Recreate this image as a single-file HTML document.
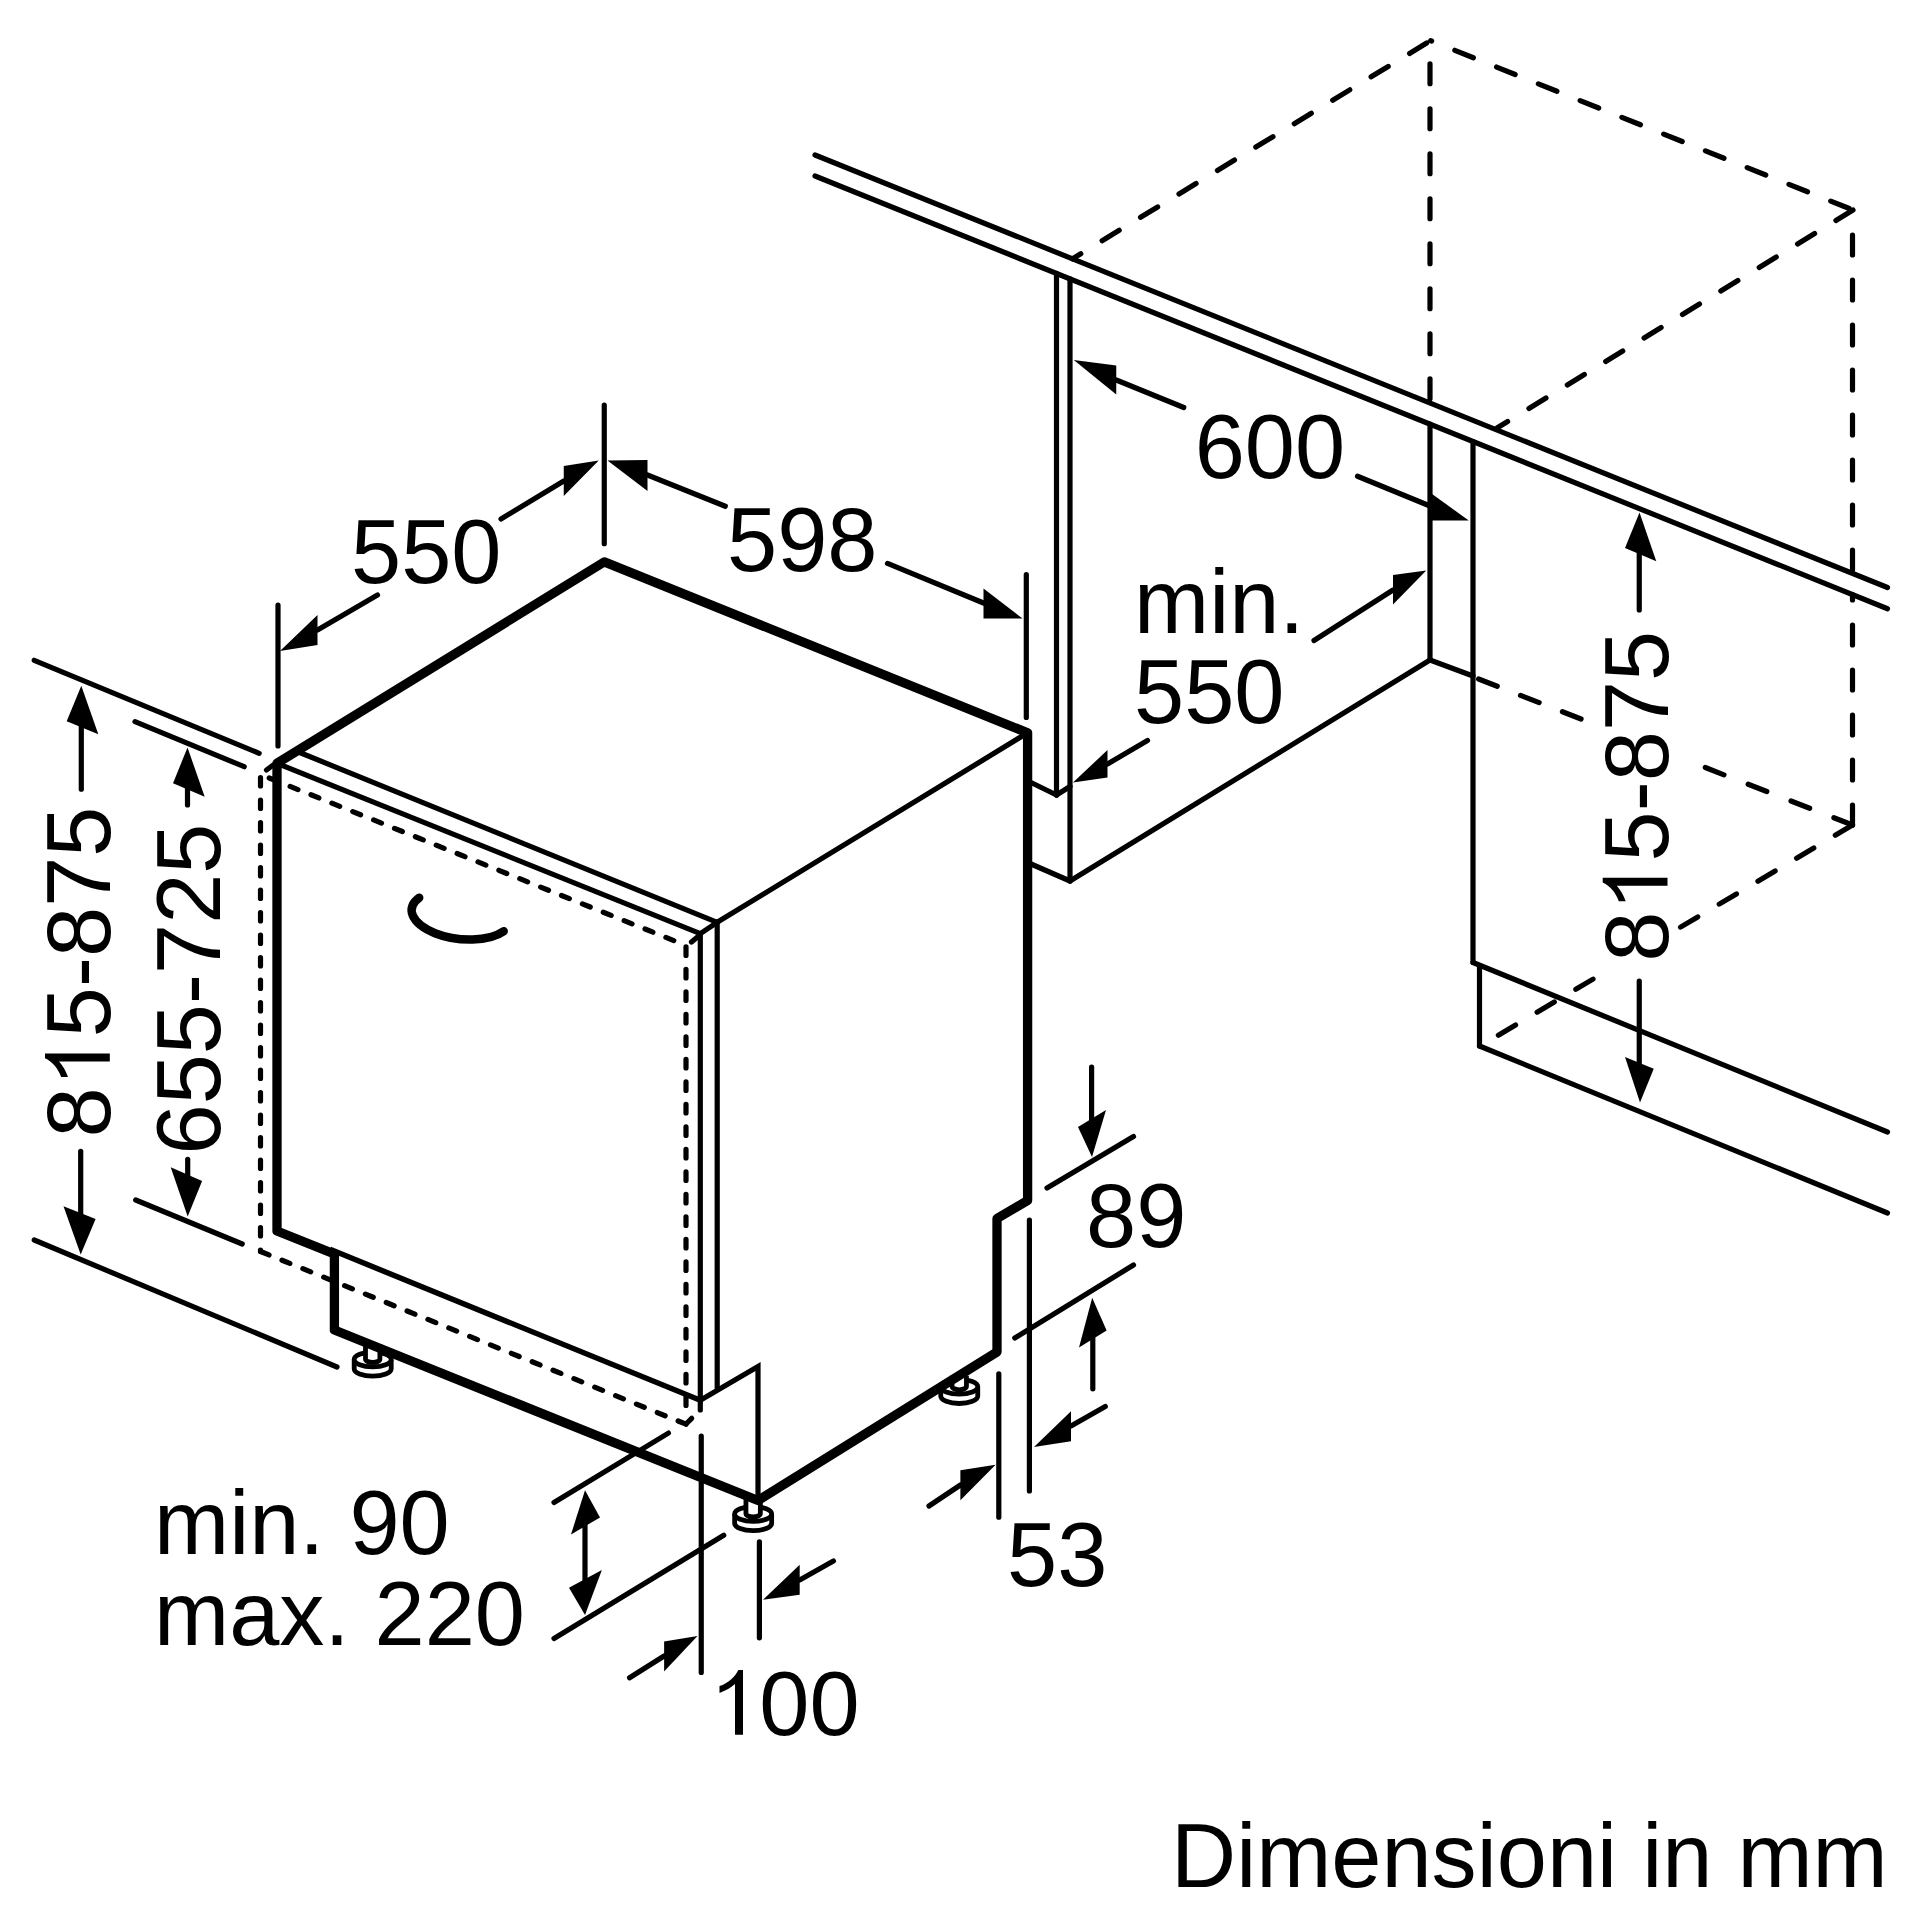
<!DOCTYPE html>
<html><head><meta charset="utf-8"><style>
html,body{margin:0;padding:0;background:#fff;}
svg{display:block;}
</style></head><body>
<svg width="1920" height="1920" viewBox="0 0 1920 1920">
<rect width="1920" height="1920" fill="#fff"/>
<g stroke="#000" fill="none">
<line x1="815" y1="155" x2="1887.5" y2="587.5" stroke-width="5.2" stroke-linecap="round" />
<line x1="815" y1="176" x2="1887.5" y2="608.75" stroke-width="5.2" stroke-linecap="round" />
<line x1="1072.5" y1="258.8" x2="1430.6" y2="40.6" stroke-width="5.2" stroke-linecap="round" stroke-dasharray="20 25" stroke-dashoffset="10.3"/>
<line x1="1430.6" y1="40.6" x2="1853" y2="210" stroke-width="5.2" stroke-linecap="round" stroke-dasharray="20 25" stroke-dashoffset="18.9"/>
<line x1="1430" y1="40.6" x2="1430" y2="403" stroke-width="5.2" stroke-linecap="round" stroke-dasharray="20 25" stroke-dashoffset="21.85"/>
<line x1="1852.5" y1="210" x2="1852.5" y2="573.4" stroke-width="5.2" stroke-linecap="round" stroke-dasharray="20 25" stroke-dashoffset="20"/>
<line x1="1852.5" y1="825" x2="1852.5" y2="594.6" stroke-width="5.2" stroke-linecap="round" stroke-dasharray="20 25" stroke-dashoffset="0"/>
<line x1="1853" y1="210" x2="1497" y2="428" stroke-width="5.2" stroke-linecap="round" stroke-dasharray="20 25" stroke-dashoffset="0"/>
<line x1="1473" y1="676.8" x2="1590" y2="722.5" stroke-width="5.2" stroke-linecap="round" stroke-dasharray="20 25" stroke-dashoffset="39"/>
<line x1="1852.5" y1="825" x2="1697" y2="764.3" stroke-width="5.2" stroke-linecap="round" stroke-dasharray="20 26" stroke-dashoffset="0"/>
<line x1="1852.5" y1="825" x2="1675" y2="930.4" stroke-width="5.2" stroke-linecap="round" stroke-dasharray="20 25" stroke-dashoffset="0"/>
<line x1="1600" y1="975" x2="1497" y2="1036" stroke-width="5.2" stroke-linecap="round" stroke-dasharray="20 25" stroke-dashoffset="36.9"/>
<line x1="1056.5" y1="273.4" x2="1056.5" y2="795" stroke-width="5.2" stroke-linecap="round" />
<line x1="1070" y1="278.9" x2="1070" y2="881" stroke-width="5.2" stroke-linecap="round" />
<line x1="1031" y1="782.5" x2="1056.5" y2="795" stroke-width="5.2" stroke-linecap="round" />
<line x1="1056.5" y1="795" x2="1070" y2="786.5" stroke-width="5.2" stroke-linecap="round" />
<line x1="1031" y1="864" x2="1070" y2="881" stroke-width="5.2" stroke-linecap="round" />
<line x1="1070" y1="881" x2="1430" y2="660" stroke-width="5.2" stroke-linecap="round" />
<line x1="1430" y1="424.2" x2="1430" y2="660" stroke-width="5.2" stroke-linecap="round" />
<line x1="1430" y1="660" x2="1473" y2="676" stroke-width="5.2" stroke-linecap="round" />
<line x1="1473" y1="441.5" x2="1473" y2="962.5" stroke-width="5.2" stroke-linecap="round" />
<line x1="1473" y1="962.5" x2="1887.5" y2="1132" stroke-width="5.2" stroke-linecap="round" />
<line x1="1479.5" y1="966" x2="1479.5" y2="1046" stroke-width="5.2" stroke-linecap="round" />
<line x1="1479.5" y1="1046" x2="1887.5" y2="1213" stroke-width="5.2" stroke-linecap="round" />
<g transform="translate(753.15,1514)" stroke-width="4.8" fill="#fff"><path d="M-18.5,0 L-18.5,9.3 A18.5,7.4 0 0 0 18.5,9.3 L18.5,0"/><ellipse cx="0" cy="0" rx="18.5" ry="7.4"/><path d="M-7.2,-15 L-7.2,-0.5 A7.2,3.5 0 0 0 7.2,-0.5 L7.2,-15"/></g>
<g transform="translate(372.7,1359.5)" stroke-width="4.8" fill="#fff"><path d="M-18.5,0 L-18.5,9.3 A18.5,7.4 0 0 0 18.5,9.3 L18.5,0"/><ellipse cx="0" cy="0" rx="18.5" ry="7.4"/><path d="M-7.2,-15 L-7.2,-0.5 A7.2,3.5 0 0 0 7.2,-0.5 L7.2,-15"/></g>
<g transform="translate(959.25,1386.8)" stroke-width="4.8" fill="#fff"><path d="M-18.5,0 L-18.5,9.3 A18.5,7.4 0 0 0 18.5,9.3 L18.5,0"/><ellipse cx="0" cy="0" rx="18.5" ry="7.4"/><path d="M-7.2,-11 L-7.2,-0.5 A7.2,3.5 0 0 0 7.2,-0.5 L7.2,-11"/></g>
<polyline points="334.4,1254 277,1231 277,763.3 604.3,561.9 1027.6,732.8 1027.6,1200.5 997,1218.5 997,1352 758,1500.5 334.4,1330 334.4,1254" fill="none" stroke-width="9.3" stroke-linejoin="round" stroke-linecap="butt" />
<line x1="296" y1="751" x2="717.2" y2="922.3" stroke-width="5.2" stroke-linecap="round" />
<line x1="717.2" y1="922.3" x2="1027.6" y2="732.8" stroke-width="5.2" stroke-linecap="round" />
<line x1="717.2" y1="922.3" x2="717.2" y2="1388" stroke-width="5.2" stroke-linecap="round" />
<line x1="277" y1="763.3" x2="700.3" y2="933.6" stroke-width="5.2" stroke-linecap="butt" />
<line x1="700.3" y1="933.6" x2="700.3" y2="1410" stroke-width="5.2" stroke-linecap="round" />
<line x1="330" y1="1249.3" x2="700.3" y2="1400.3" stroke-width="5.5" stroke-linecap="butt" />
<line x1="700.3" y1="933.6" x2="717.2" y2="922.3" stroke-width="5.2" stroke-linecap="round" />
<polyline points="700.3,1400.3 758,1366.6 758,1500" fill="none" stroke-width="5.2" stroke-linejoin="miter" stroke-linecap="round" />
<line x1="260.5" y1="774.5" x2="260.5" y2="1251.5" stroke-width="5.2" stroke-linecap="round" stroke-dasharray="8.5 14" stroke-dashoffset="19.5"/>
<line x1="260.5" y1="774.5" x2="686" y2="945.5" stroke-width="5.2" stroke-linecap="round" stroke-dasharray="8.5 14" stroke-dashoffset="13.1"/>
<line x1="686" y1="945.5" x2="686" y2="1412" stroke-width="5.2" stroke-linecap="round" stroke-dasharray="8.5 14" stroke-dashoffset="21.1"/>
<polyline points="260.5,1251.5 686,1424.2 692,1418.5" fill="none" stroke-width="5.2" stroke-linejoin="miter" stroke-linecap="round" stroke-dasharray="8.5 14" stroke-dashoffset="21.8"/>
<line x1="691.5" y1="942" x2="697.5" y2="937" stroke-width="5.2" stroke-linecap="round" />
<line x1="686" y1="1424" x2="691.7" y2="1418.3" stroke-width="5.2" stroke-linecap="round" />
<line x1="266.5" y1="770" x2="273.2" y2="765" stroke-width="5.2" stroke-linecap="round" />
<path d="M419.2,897.7 A49.6,24.4 6.5 0 0 503.7,931.3" fill="none" stroke-width="8.5" stroke-linecap="round"/>
<line x1="278" y1="605" x2="278" y2="746" stroke-width="5.2" stroke-linecap="round" />
<line x1="604.25" y1="405" x2="604.25" y2="543.75" stroke-width="5.2" stroke-linecap="round" />
<line x1="1026.3" y1="574.7" x2="1026.3" y2="717.5" stroke-width="5.2" stroke-linecap="round" />
<polygon points="280,651 317.5,615 317.5,645" fill="#000" stroke="none"/>
<line x1="317.5" y1="630" x2="377.5" y2="595" stroke-width="5.2" stroke-linecap="round" />
<polygon points="598.75,460.5 563.75,466 563.75,496" fill="#000" stroke="none"/>
<line x1="563.75" y1="481" x2="501" y2="519" stroke-width="5.2" stroke-linecap="round" />
<polygon points="607.5,460.5 647.5,460 647.5,491" fill="#000" stroke="none"/>
<line x1="647.5" y1="475" x2="725.3" y2="506.25" stroke-width="5.2" stroke-linecap="round" />
<polygon points="1022.5,618.4 983.5,588.4 983.5,618.4" fill="#000" stroke="none"/>
<line x1="983.5" y1="603" x2="887.5" y2="563.4" stroke-width="5.2" stroke-linecap="round" />
<polygon points="1073.75,360 1116.25,365.5 1116.25,394.5" fill="#000" stroke="none"/>
<line x1="1116.25" y1="380" x2="1183.75" y2="407.5" stroke-width="5.2" stroke-linecap="round" />
<polygon points="1468.75,520.5 1430,492.5 1430,520.5" fill="#000" stroke="none"/>
<line x1="1430" y1="506" x2="1357.5" y2="476.25" stroke-width="5.2" stroke-linecap="round" />
<polygon points="1426.25,570.5 1393,575 1393,604.5" fill="#000" stroke="none"/>
<line x1="1393" y1="590" x2="1314" y2="640.5" stroke-width="5.2" stroke-linecap="round" />
<polygon points="1073,782.5 1107.5,750 1107.5,777.5" fill="#000" stroke="none"/>
<line x1="1107.5" y1="764" x2="1147.5" y2="740.5" stroke-width="5.2" stroke-linecap="round" />
<polygon points="1639.5,512.5 1625,548 1656.25,561.25" fill="#000" stroke="none"/>
<line x1="1639.25" y1="553" x2="1639.25" y2="610" stroke-width="5.2" stroke-linecap="round" />
<polygon points="1640,1102.5 1625,1057 1653.75,1068.75" fill="#000" stroke="none"/>
<line x1="1639.25" y1="981" x2="1639.25" y2="1063" stroke-width="5.2" stroke-linecap="round" />
<line x1="1047" y1="1188" x2="1133.5" y2="1136.6" stroke-width="5.2" stroke-linecap="round" />
<line x1="1014.75" y1="1338" x2="1133.5" y2="1265" stroke-width="5.2" stroke-linecap="round" />
<polygon points="1092,1157 1078,1127 1106,1110" fill="#000" stroke="none"/>
<line x1="1091.6" y1="1067" x2="1091.6" y2="1120" stroke-width="5.2" stroke-linecap="round" />
<polygon points="1092.2,1297.8 1079,1347.5 1106.6,1330.6" fill="#000" stroke="none"/>
<line x1="1092.8" y1="1337" x2="1092.8" y2="1388.8" stroke-width="5.2" stroke-linecap="round" />
<line x1="1029.4" y1="1220" x2="1029.4" y2="1491" stroke-width="5.2" stroke-linecap="round" />
<line x1="998.8" y1="1373.8" x2="998.8" y2="1517.2" stroke-width="5.2" stroke-linecap="round" />
<polygon points="1034,1446.9 1071,1411.25 1071,1441.25" fill="#000" stroke="none"/>
<line x1="1071" y1="1426" x2="1105.3" y2="1406.6" stroke-width="5.2" stroke-linecap="round" />
<polygon points="995.6,1464.7 960.4,1470.3 960.4,1500.3" fill="#000" stroke="none"/>
<line x1="960.4" y1="1485" x2="929" y2="1506" stroke-width="5.2" stroke-linecap="round" />
<line x1="701.25" y1="1436" x2="701.25" y2="1672.5" stroke-width="5.2" stroke-linecap="round" />
<line x1="759.4" y1="1541.9" x2="759.4" y2="1637.8" stroke-width="5.2" stroke-linecap="round" />
<polygon points="763,1599.75 799.7,1564.7 799.7,1594.7" fill="#000" stroke="none"/>
<line x1="799.7" y1="1580" x2="833.4" y2="1561" stroke-width="5.2" stroke-linecap="round" />
<polygon points="697.5,1636 664.1,1641.6 664.1,1671.6" fill="#000" stroke="none"/>
<line x1="664.1" y1="1656" x2="629.6" y2="1677.75" stroke-width="5.2" stroke-linecap="round" />
<line x1="554" y1="1502.5" x2="668.4" y2="1433.1" stroke-width="5.2" stroke-linecap="round" />
<line x1="554" y1="1638.5" x2="723.75" y2="1535.3" stroke-width="5.2" stroke-linecap="round" />
<polygon points="585,1490.3 571,1534.4 600,1517.5" fill="#000" stroke="none"/>
<polygon points="585,1615 569,1587.8 601.9,1570" fill="#000" stroke="none"/>
<line x1="585" y1="1520" x2="585" y2="1585" stroke-width="5.2" stroke-linecap="butt" />
<line x1="34.2" y1="660.3" x2="259.2" y2="753.3" stroke-width="5.2" stroke-linecap="round" />
<line x1="135" y1="721.7" x2="244.2" y2="766.7" stroke-width="5.2" stroke-linecap="round" />
<line x1="34.2" y1="1240" x2="337" y2="1367" stroke-width="5.2" stroke-linecap="round" />
<line x1="135.7" y1="1200" x2="242.2" y2="1244" stroke-width="5.2" stroke-linecap="round" />
<polygon points="81.3,685.8 66.7,721.3 98.3,734.2" fill="#000" stroke="none"/>
<line x1="81.3" y1="725" x2="81.3" y2="789.2" stroke-width="5.2" stroke-linecap="round" />
<polygon points="80.7,1254.4 63.5,1206.3 95.6,1218.9" fill="#000" stroke="none"/>
<line x1="80.7" y1="1151.3" x2="80.7" y2="1214" stroke-width="5.2" stroke-linecap="round" />
<polygon points="187.5,747.5 173,783.3 204.7,796.7" fill="#000" stroke="none"/>
<line x1="187.5" y1="788" x2="187.5" y2="805" stroke-width="5.2" stroke-linecap="round" />
<polygon points="187.7,1216.6 170.7,1167.3 202.1,1181" fill="#000" stroke="none"/>
<line x1="187.7" y1="1159.3" x2="187.7" y2="1176" stroke-width="5.2" stroke-linecap="round" />
</g>
<g font-family="Liberation Sans" font-size="90.2" fill="#000">
<text x="351" y="583" >550</text>
<text x="727" y="570.9" >598</text>
<text x="1194.7" y="478.1" >600</text>
<text x="1134" y="633" >min.</text>
<text x="1134" y="723" >550</text>
<text x="1086" y="1247.1" >89</text>
<text x="1007" y="1586" >53</text>
<g transform="translate(709.2,1734.8)"><path transform="translate(0.00,0)" d="M25.8,0 L33.8,0 L33.8,-64.8 L29.1,-64.8 C26,-58 19,-51.5 10.3,-48.7 L10.3,-41.8 C16.5,-44 22,-47.3 25.8,-50.7 Z"/><text x="50.15" y="0">00</text></g>
<text x="154" y="1553.7" >min. 90</text>
<text x="154" y="1644.5" >max. 220</text>
<text x="1171" y="1886.9" >Dimensioni in mm</text>
<rect x="1597" y="628" width="77" height="336" fill="#fff"/>
<g transform="translate(109.8,1137.5) rotate(-90)"><text x="0.00" y="0">8</text><path transform="translate(50.15,0)" d="M25.8,0 L33.8,0 L33.8,-64.8 L29.1,-64.8 C26,-58 19,-51.5 10.3,-48.7 L10.3,-41.8 C16.5,-44 22,-47.3 25.8,-50.7 Z"/><text x="100.30" y="0">5-875</text></g>
<g transform="translate(220,1154.5) rotate(-90)"><text x="0.00" y="0">655-725</text></g>
<g transform="translate(1667.5,961.7) rotate(-90)"><text x="0.00" y="0">8</text><path transform="translate(50.15,0)" d="M25.8,0 L33.8,0 L33.8,-64.8 L29.1,-64.8 C26,-58 19,-51.5 10.3,-48.7 L10.3,-41.8 C16.5,-44 22,-47.3 25.8,-50.7 Z"/><text x="100.30" y="0">5-875</text></g>
</g>
</svg>
</body></html>
